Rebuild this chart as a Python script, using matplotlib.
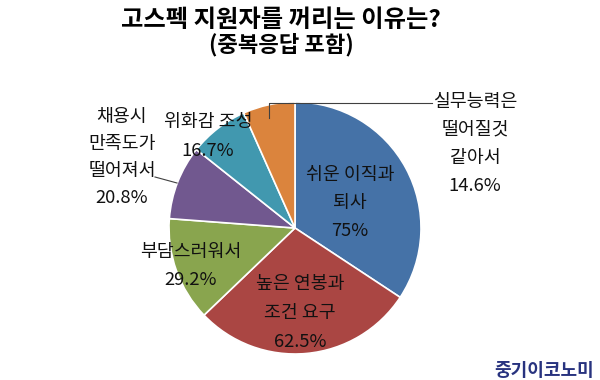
import matplotlib
matplotlib.use('Agg')
import matplotlib.pyplot as plt

plt.rcParams['font.family'] = ['Noto Sans CJK KR', 'DejaVu Sans']

# ── Data ───────────────────────────────────────────────────────────────────
reasons = ['쉬운 이직과\n퇴사', '높은 연봉과\n조건 요구', '부담스러워서',
           '채용시\n만족도가\n떨어져서', '위화감 조성', '실무능력은\n떨어질것\n같아서']
shares = [75, 62.5, 29.2, 20.8, 16.7, 14.6]
colors = ['#4572A7', '#AA4643', '#89A54E', '#71588F', '#4198AF', '#DB843D']

W, H = 600, 380

def Y(y):
    return H - y

fig = plt.figure(figsize=(6, 3.8), dpi=100)
fig.patch.set_facecolor('white')
ax = fig.add_axes([0, 0, 1, 1])

ax.pie(shares, colors=colors, startangle=90, counterclock=False,
       center=(295, Y(228)), radius=126,
       wedgeprops=dict(edgecolor='white', linewidth=1.2))
ax.set_xlim(0, W)
ax.set_ylim(0, H)
ax.set_aspect('equal')
ax.axis('off')

# label anchor (x, y of first line) in pixel coords, line gap
label_pos = [(350, 175, 28), (300, 284, 29), (191, 252, 28),
             (122, 117, 27), (208, 122, 29), (475, 102, 28)]

for name, val, (lx, ly, gap) in zip(reasons, shares, label_pos):
    lines = name.split('\n') + [f'{val:g}%']
    for i, t in enumerate(lines):
        ax.text(lx, Y(ly + i * gap), t, ha='center', va='center',
                fontsize=13.2, color='#111111')

# leader lines
ax.plot([155, 177], [Y(177), Y(183)], color='#404040', lw=0.8)
ax.plot([432, 269, 269], [Y(103), Y(103), Y(118)], color='#404040', lw=0.8)

# ── Title ──────────────────────────────────────────────────────────────────
ax.text(281, Y(20), '고스펙 지원자를 꺼리는 이유는?', ha='center', va='center',
        fontsize=17.5, fontweight='bold', color='#000000')
ax.text(281, Y(45), '(중복응답 포함)', ha='center', va='center',
        fontsize=16, fontweight='bold', color='#000000')

ax.text(544, Y(371), '중기이코노미', ha='center', va='center',
        fontsize=13, fontweight='bold', color='#28337f')

fig.savefig('out.png', dpi=100, facecolor='white')
